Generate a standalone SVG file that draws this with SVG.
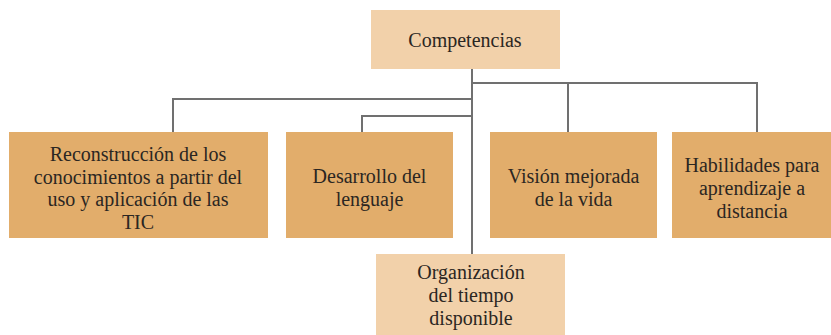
<svg xmlns="http://www.w3.org/2000/svg" width="831" height="335" viewBox="0 0 831 335">
<defs>
<marker id="none" markerWidth="1" markerHeight="1"/>
</defs>
<rect width="831" height="335" fill="#ffffff"/>
<g id="connectors" stroke="#707070" stroke-width="2" fill="none">
<path d="M472,69 V254"/>
<path d="M472,99 H173 V132"/>
<path d="M472,116 H362 V132"/>
<path d="M472,83 H757 V132"/>
<path d="M568,83 V132"/>
</g>
<g font-family="Liberation Serif" font-size="20" fill="#2b2622" text-anchor="middle">
<g id="competencias">
<rect fill="#F2D1AA" x="371" y="10" width="189" height="59"/>
<text x="465" y="47">Competencias</text>
</g>
<g id="reconstruccion">
<rect fill="#E2AD6B" x="9" y="132" width="259" height="106"/>
<text x="138" y="161">Reconstrucción de los</text>
<text x="138" y="183.5">conocimientos a partir del</text>
<text x="138" y="206">uso y aplicación de las</text>
<text x="138" y="228.5">TIC</text>
</g>
<g id="desarrollo">
<rect fill="#E2AD6B" x="286" y="132" width="167" height="106"/>
<text x="369.5" y="183">Desarrollo del</text>
<text x="369.5" y="205.5">lenguaje</text>
</g>
<g id="vision">
<rect fill="#E2AD6B" x="490" y="132" width="167" height="106"/>
<text x="573.5" y="183">Visión mejorada</text>
<text x="573.5" y="205.5">de la vida</text>
</g>
<g id="habilidades">
<rect fill="#E2AD6B" x="672" y="132" width="159" height="106"/>
<text x="752" y="172">Habilidades para</text>
<text x="752" y="195">aprendizaje a</text>
<text x="752" y="218">distancia</text>
</g>
<g id="organizacion">
<rect fill="#F2D1AA" x="376" y="254" width="189" height="81"/>
<text x="471" y="279">Organización</text>
<text x="471" y="302">del tiempo</text>
<text x="471" y="325">disponible</text>
</g>
</g>
</svg>
